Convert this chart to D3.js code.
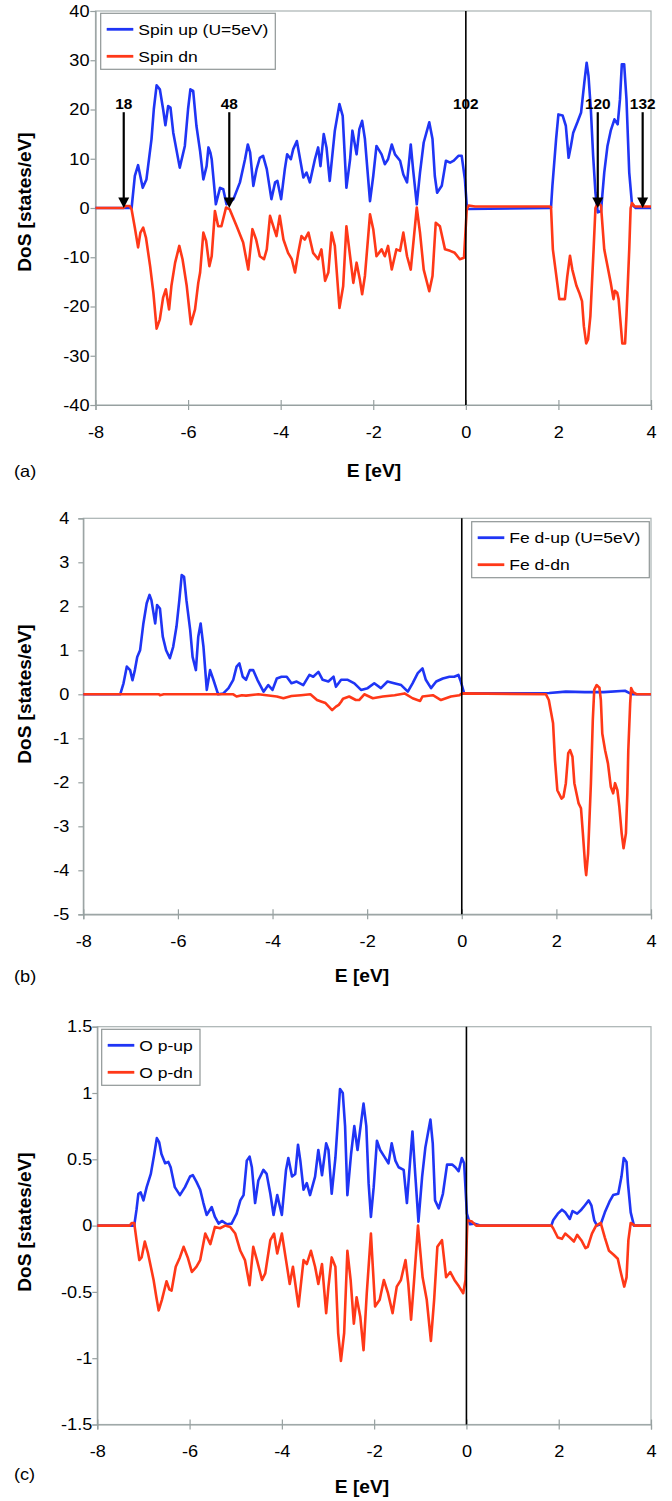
<!DOCTYPE html>
<html>
<head>
<meta charset="utf-8">
<script src="https://cdn.jsdelivr.net/npm/d3@7/dist/d3.min.js"></script>
<style>
  body { margin: 0; background: #fff; }
  svg text { font-family: "Liberation Sans", Arial, sans-serif; fill: #000; }
</style>
</head>
<body>
<div id="chart"></div>
<script>
// energy ticks shared by the three panels
var eTicks = [-8, -6, -4, -2, 0, 2, 4];

// (a) total DoS, [E (eV), DoS (states/eV)]
var totalUp = [[-8,0],[-7.22,0],[-7.15,6.5],[-7.08,8.7],[-6.98,4.1],[-6.9,5.8],[-6.79,14],[-6.74,20.1],[-6.68,24.9],[-6.61,24.1],[-6.54,20.1],[-6.49,16.8],[-6.43,20.7],[-6.38,20.4],[-6.32,15.3],[-6.18,8.2],[-6.07,12.6],[-6.0,20.1],[-5.95,24.1],[-5.89,23.8],[-5.82,16.7],[-5.74,11.5],[-5.67,5.8],[-5.6,8.5],[-5.56,12.3],[-5.52,11.3],[-5.49,9.9],[-5.4,0.75],[-5.31,4.1],[-5.24,3.8],[-5.17,0.75],[-5.02,1.8],[-4.88,5.2],[-4.77,9.9],[-4.71,12.9],[-4.66,11.3],[-4.59,4.5],[-4.52,7.9],[-4.45,10.2],[-4.38,10.6],[-4.3,7.9],[-4.2,1.8],[-4.12,5.2],[-4.07,5.5],[-3.99,1.8],[-3.91,7.9],[-3.86,10.9],[-3.78,9.9],[-3.73,11.9],[-3.65,13.6],[-3.58,9.9],[-3.51,6.2],[-3.44,7.2],[-3.37,5.2],[-3.26,9.9],[-3.19,12.3],[-3.14,8.5],[-3.07,15],[-3.01,12.3],[-2.94,5.5],[-2.83,15.7],[-2.73,21.1],[-2.66,18.7],[-2.58,4.1],[-2.5,9.9],[-2.45,15.7],[-2.36,10.9],[-2.3,16],[-2.24,17.7],[-2.18,14],[-2.07,1.4],[-2.0,6.5],[-1.93,12.6],[-1.82,10.9],[-1.75,8.9],[-1.68,9.9],[-1.6,12.9],[-1.53,10.9],[-1.42,9.6],[-1.35,6.8],[-1.27,5.2],[-1.19,12.9],[-1.14,7.9],[-1.06,0.75],[-0.99,7.2],[-0.91,13.3],[-0.79,17.4],[-0.72,14],[-0.67,6.5],[-0.62,3.1],[-0.52,4.5],[-0.43,9.6],[-0.34,9.2],[-0.26,9.6],[-0.16,10.6],[-0.09,10.6],[-0.02,5.8],[0.02,0.5],[0.05,-0.2],[1.8,0],[1.84,0.1],[1.87,4.5],[1.95,14],[2.0,19],[2.09,18.8],[2.16,16.7],[2.22,10.2],[2.27,12.6],[2.32,15.3],[2.41,17.4],[2.49,19.4],[2.56,25.5],[2.61,29.5],[2.65,26.8],[2.7,20.1],[2.75,10.6],[2.8,3.1],[2.85,-0.9],[2.92,-0.6],[2.99,7.2],[3.06,12.6],[3.13,15.7],[3.21,18],[3.28,17],[3.33,22.1],[3.37,29.2],[3.42,29.2],[3.47,22.1],[3.53,7.2],[3.59,0.7],[3.67,0],[4,0]];
var totalDn = [[-8,0],[-7.4,0],[-7.35,0.4],[-7.26,0.4],[-7.22,-0.3],[-7.15,-4.0],[-7.08,-8.0],[-7.03,-5.0],[-6.97,-4.0],[-6.91,-6.0],[-6.82,-11.8],[-6.75,-17.2],[-6.68,-24.5],[-6.61,-22.6],[-6.54,-18.2],[-6.48,-16.5],[-6.41,-20.6],[-6.36,-15.8],[-6.28,-11.1],[-6.19,-7.7],[-6.12,-10.4],[-6.03,-15.8],[-5.94,-23.6],[-5.85,-20.6],[-5.78,-15.2],[-5.74,-13.1],[-5.67,-5.0],[-5.61,-6.7],[-5.54,-11.8],[-5.49,-9.8],[-5.42,-0.6],[-5.35,-3.7],[-5.28,-3.7],[-5.18,0.1],[-5.1,-0.3],[-4.95,-3.7],[-4.81,-7.0],[-4.7,-12.5],[-4.61,-4.3],[-4.53,-6.4],[-4.45,-9.8],[-4.36,-10.4],[-4.3,-8.4],[-4.23,-1.6],[-4.16,-3.7],[-4.09,-5.7],[-4.02,-1.6],[-3.94,-6.4],[-3.84,-9.1],[-3.76,-10.4],[-3.69,-13.1],[-3.62,-9.1],[-3.55,-5.7],[-3.48,-6.4],[-3.4,-5.0],[-3.3,-9.1],[-3.19,-10.4],[-3.12,-8.4],[-3.04,-14.8],[-2.97,-13.1],[-2.9,-5.0],[-2.83,-7.7],[-2.73,-20.3],[-2.65,-15.9],[-2.58,-3.7],[-2.5,-9.8],[-2.43,-15.2],[-2.36,-11.1],[-2.29,-14.5],[-2.24,-17.5],[-2.18,-13.8],[-2.07,-1.3],[-2.0,-4.3],[-1.93,-9.8],[-1.82,-8.4],[-1.75,-9.8],[-1.68,-7.7],[-1.6,-12.5],[-1.5,-8.4],[-1.42,-8.7],[-1.35,-5.0],[-1.27,-9.8],[-1.19,-12.5],[-1.14,-7.7],[-1.06,0.1],[-0.99,-5.0],[-0.91,-12.5],[-0.79,-16.9],[-0.72,-13.8],[-0.65,-3.0],[-0.56,-3.7],[-0.45,-8.4],[-0.34,-8.7],[-0.24,-9.1],[-0.13,-10.4],[-0.04,-10.1],[0.02,-0.3],[0.06,0.5],[0.2,0.3],[1.8,0.3],[1.84,0.2],[1.88,-8.4],[1.93,-12],[2.02,-18.5],[2.14,-18.5],[2.19,-14],[2.25,-9.7],[2.3,-12.5],[2.39,-15.8],[2.45,-17.2],[2.51,-18.9],[2.55,-24],[2.6,-27.5],[2.64,-26.7],[2.69,-22],[2.76,-8.4],[2.8,0],[2.85,1.0],[2.92,0.5],[2.99,-8.4],[3.06,-11.8],[3.13,-15.2],[3.19,-18.5],[3.22,-16.8],[3.27,-17.2],[3.3,-18.5],[3.33,-21.9],[3.38,-27.5],[3.44,-27.5],[3.47,-21.9],[3.5,-15.2],[3.53,-8.4],[3.56,0],[3.59,1.0],[3.65,0.3],[4,0.3]];
var totalTicks = [40, 30, 20, 10, 0, -10, -20, -30, -40];
// state counts marked with arrows in (a)
var stateMarks = [
  { E: -7.39, label: "18", arrow: true },
  { E: -5.11, label: "48", arrow: true },
  { E: 0, label: "102", arrow: false },
  { E: 2.85, label: "120", arrow: true },
  { E: 3.82, label: "132", arrow: true }
];

// (b) Fe d states
var feUp = [[-8,0],[-7.22,0],[-7.15,0.25],[-7.08,0.63],[-7.01,0.55],[-6.96,0.32],[-6.91,0.55],[-6.86,0.85],[-6.8,1.0],[-6.73,1.61],[-6.66,2.07],[-6.6,2.26],[-6.56,2.14],[-6.48,1.61],[-6.44,2.03],[-6.38,1.95],[-6.32,1.31],[-6.25,1.0],[-6.17,0.82],[-6.1,1.08],[-6.03,1.54],[-5.97,2.14],[-5.92,2.71],[-5.87,2.67],[-5.82,2.14],[-5.74,1.46],[-5.69,0.85],[-5.62,0.55],[-5.57,1.31],[-5.52,1.61],[-5.46,1.08],[-5.39,0.1],[-5.32,0.55],[-5.25,0.33],[-5.15,0],[-5.04,0.02],[-4.93,0.14],[-4.83,0.33],[-4.76,0.63],[-4.7,0.7],[-4.63,0.4],[-4.56,0.33],[-4.48,0.55],[-4.41,0.55],[-4.32,0.33],[-4.19,0.06],[-4.09,0.21],[-4.0,0.1],[-3.91,0.36],[-3.81,0.4],[-3.7,0.4],[-3.6,0.25],[-3.49,0.29],[-3.35,0.21],[-3.22,0.44],[-3.14,0.4],[-3.03,0.51],[-2.94,0.33],[-2.82,0.29],[-2.71,0.4],[-2.66,0.17],[-2.55,0.33],[-2.41,0.33],[-2.27,0.25],[-2.13,0.1],[-1.99,0.14],[-1.85,0.25],[-1.71,0.14],[-1.57,0.29],[-1.43,0.25],[-1.28,0.21],[-1.14,0.06],[-1.04,0.25],[-0.93,0.48],[-0.83,0.59],[-0.76,0.33],[-0.65,0.14],[-0.54,0.29],[-0.4,0.36],[-0.26,0.4],[-0.16,0.4],[-0.07,0.44],[-0.02,0.29],[0.05,0.02],[1.85,0.03],[2.2,0.06],[2.6,0.05],[3.0,0.05],[3.45,0.08],[3.6,0],[4,0]];
var feDn = [[-8,0],[-6.4,0],[-6.38,-0.02],[-6.3,0],[-4.83,0],[-4.76,-0.05],[-4.65,-0.02],[-4.56,-0.03],[-4.3,0],[-3.91,-0.05],[-3.77,-0.09],[-3.6,-0.04],[-3.4,-0.02],[-3.2,0],[-3.06,-0.13],[-2.96,-0.17],[-2.88,-0.2],[-2.74,-0.36],[-2.66,-0.28],[-2.6,-0.24],[-2.55,-0.17],[-2.51,-0.1],[-2.38,-0.05],[-2.24,-0.13],[-2.17,-0.13],[-2.06,0],[-1.88,-0.09],[-1.67,-0.05],[-1.42,-0.02],[-1.21,0.02],[-1.04,-0.09],[-0.88,-0.15],[-0.83,-0.05],[-0.61,-0.02],[-0.44,-0.13],[-0.23,-0.05],[-0.05,-0.02],[0.0,0.02],[1.78,0],[1.84,-0.13],[1.93,-0.66],[1.97,-1.49],[2.02,-2.18],[2.11,-2.37],[2.15,-2.33],[2.2,-2.02],[2.25,-1.34],[2.29,-1.27],[2.34,-1.42],[2.38,-2.02],[2.47,-2.48],[2.52,-2.59],[2.56,-3.16],[2.61,-3.92],[2.63,-4.11],[2.67,-3.62],[2.73,-2.02],[2.77,-0.58],[2.8,0.1],[2.85,0.21],[2.91,0.15],[2.94,-0.13],[2.97,-0.89],[3.03,-1.27],[3.09,-1.57],[3.15,-2.1],[3.2,-2.25],[3.24,-2.02],[3.29,-2.18],[3.33,-2.55],[3.38,-3.16],[3.42,-3.5],[3.47,-3.16],[3.5,-2.25],[3.52,-1.27],[3.56,-0.2],[3.58,0.14],[3.62,0.05],[3.7,0],[4,0]];
var feTicks = [4, 3, 2, 1, 0, -1, -2, -3, -4, -5];

// (c) O p states
var oUp = [[-8,0],[-7.2,0],[-7.15,0.12],[-7.11,0.24],[-7.06,0.25],[-7.0,0.19],[-6.93,0.29],[-6.84,0.39],[-6.77,0.53],[-6.71,0.66],[-6.66,0.63],[-6.61,0.54],[-6.53,0.47],[-6.46,0.48],[-6.41,0.44],[-6.32,0.29],[-6.21,0.23],[-6.1,0.29],[-5.99,0.37],[-5.93,0.38],[-5.85,0.33],[-5.77,0.27],[-5.7,0.17],[-5.63,0.08],[-5.52,0.14],[-5.45,0.065],[-5.37,0.015],[-5.3,0.035],[-5.19,0.01],[-5.09,0.015],[-4.98,0.09],[-4.9,0.19],[-4.83,0.23],[-4.76,0.49],[-4.7,0.52],[-4.65,0.44],[-4.58,0.17],[-4.51,0.34],[-4.4,0.42],[-4.33,0.39],[-4.25,0.24],[-4.18,0.08],[-4.1,0.23],[-4.0,0.08],[-3.91,0.42],[-3.86,0.51],[-3.78,0.37],[-3.71,0.39],[-3.65,0.61],[-3.6,0.49],[-3.53,0.27],[-3.46,0.32],[-3.39,0.23],[-3.28,0.37],[-3.21,0.57],[-3.13,0.38],[-3.04,0.62],[-2.99,0.57],[-2.92,0.24],[-2.84,0.51],[-2.79,0.77],[-2.74,1.03],[-2.68,1.0],[-2.63,0.75],[-2.58,0.23],[-2.5,0.54],[-2.43,0.75],[-2.36,0.57],[-2.29,0.76],[-2.23,0.92],[-2.17,0.75],[-2.12,0.32],[-2.07,0.065],[-2.01,0.29],[-1.94,0.64],[-1.87,0.57],[-1.78,0.52],[-1.69,0.47],[-1.62,0.62],[-1.54,0.49],[-1.47,0.44],[-1.36,0.42],[-1.29,0.17],[-1.22,0.49],[-1.17,0.71],[-1.11,0.39],[-1.04,0.03],[-0.96,0.37],[-0.89,0.59],[-0.78,0.8],[-0.73,0.62],[-0.68,0.19],[-0.6,0.13],[-0.51,0.24],[-0.42,0.46],[-0.31,0.46],[-0.24,0.44],[-0.17,0.41],[-0.1,0.51],[-0.05,0.47],[0.01,0.09],[0.08,0.01],[0.16,0.015],[0.3,0],[1.84,0],[1.88,0.04],[1.98,0.09],[2.07,0.12],[2.14,0.1],[2.24,0.05],[2.3,0.11],[2.4,0.09],[2.49,0.12],[2.56,0.15],[2.65,0.19],[2.71,0.15],[2.77,0.04],[2.83,0],[2.91,0.01],[3.0,0.1],[3.1,0.18],[3.18,0.23],[3.29,0.24],[3.36,0.37],[3.41,0.51],[3.47,0.48],[3.5,0.32],[3.56,0.1],[3.63,0],[4,0]];
var oDn = [[-8,0],[-7.3,0],[-7.25,0.02],[-7.2,0.02],[-7.15,-0.11],[-7.09,-0.26],[-7.04,-0.24],[-6.97,-0.12],[-6.9,-0.21],[-6.84,-0.31],[-6.78,-0.41],[-6.72,-0.54],[-6.67,-0.64],[-6.6,-0.56],[-6.5,-0.42],[-6.44,-0.48],[-6.39,-0.49],[-6.3,-0.31],[-6.21,-0.24],[-6.13,-0.16],[-6.04,-0.24],[-5.95,-0.35],[-5.85,-0.31],[-5.77,-0.26],[-5.66,-0.06],[-5.55,-0.14],[-5.45,-0.01],[-5.34,-0.02],[-5.23,0.0],[-5.12,-0.01],[-5.01,-0.06],[-4.9,-0.19],[-4.8,-0.26],[-4.7,-0.45],[-4.62,-0.16],[-4.54,-0.26],[-4.43,-0.41],[-4.36,-0.36],[-4.25,-0.11],[-4.17,-0.06],[-4.1,-0.21],[-4.0,-0.06],[-3.91,-0.26],[-3.83,-0.44],[-3.76,-0.31],[-3.64,-0.61],[-3.53,-0.26],[-3.46,-0.29],[-3.37,-0.19],[-3.28,-0.31],[-3.21,-0.44],[-3.13,-0.29],[-3.04,-0.66],[-2.99,-0.46],[-2.92,-0.24],[-2.84,-0.31],[-2.78,-0.81],[-2.72,-1.02],[-2.65,-0.81],[-2.58,-0.19],[-2.51,-0.41],[-2.44,-0.74],[-2.38,-0.54],[-2.3,-0.69],[-2.23,-0.94],[-2.16,-0.51],[-2.07,-0.06],[-1.98,-0.61],[-1.88,-0.56],[-1.79,-0.41],[-1.7,-0.51],[-1.6,-0.66],[-1.51,-0.46],[-1.42,-0.41],[-1.32,-0.26],[-1.26,-0.44],[-1.2,-0.71],[-1.14,-0.44],[-1.05,0.0],[-0.95,-0.39],[-0.86,-0.56],[-0.77,-0.87],[-0.7,-0.56],[-0.63,-0.16],[-0.53,-0.11],[-0.44,-0.39],[-0.35,-0.35],[-0.26,-0.41],[-0.16,-0.46],[-0.07,-0.51],[-0.02,-0.41],[0.02,0.04],[0.12,0.03],[0.21,0],[1.84,0],[1.88,-0.02],[1.98,-0.09],[2.07,-0.1],[2.14,-0.06],[2.24,-0.09],[2.33,-0.12],[2.4,-0.07],[2.49,-0.11],[2.58,-0.17],[2.63,-0.16],[2.72,-0.06],[2.81,0],[2.91,0.02],[3.0,-0.09],[3.09,-0.19],[3.19,-0.22],[3.28,-0.25],[3.35,-0.36],[3.42,-0.46],[3.47,-0.39],[3.51,-0.11],[3.56,0.02],[3.65,0],[4,0]];
var oTicks = [1.5, 1, 0.5, 0, -0.5, -1, -1.5];

var svgWidth = 672;
var svgHeight = 1501;
var plotRight = 651;
var upColor = "#1f35f5";
var dnColor = "#ff3818";
var axisGray = "#97a0a0";

var svg = d3.select("#chart")
  .append("svg")
  .attr("width", svgWidth)
  .attr("height", svgHeight);

// glyphs in the picture are a bit wider than Arial, stretch them
function widen(sel, k) {
  sel.each(function() {
    var w = this.getComputedTextLength();
    this.setAttribute("textLength", w * k);
    this.setAttribute("lengthAdjust", "spacingAndGlyphs");
  });
}

var panels = [
  { tag: "(a)", up: totalUp, dn: totalDn, ticks: totalTicks, upName: "Spin up (U=5eV)", dnName: "Spin dn",
    left: 95.5, top: 11, bottom: 405, labelPad: 1, yTitleY: 202, xTitleX: 374, xTitleY: 477, tagY: 477,
    legend: { x: 100.7, y: 13.3, w: 174.6 } },
  { tag: "(b)", up: feUp, dn: feDn, ticks: feTicks, upName: "Fe d-up (U=5eV)", dnName: "Fe d-dn",
    left: 83.3, top: 518.3, bottom: 914.3, labelPad: 9, yTitleY: 694, xTitleX: 362, xTitleY: 982, tagY: 982,
    legend: { x: 471.7, y: 521.7, w: 177.6 } },
  { tag: "(c)", up: oUp, dn: oDn, ticks: oTicks, upName: "O p-up", dnName: "O p-dn",
    left: 97.3, top: 1026.7, bottom: 1424.5, labelPad: 0, yTitleY: 1222, xTitleX: 362, xTitleY: 1493, tagY: 1480,
    legend: { x: 101.7, y: 1029.3, w: 98.3 } }
];

panels.forEach(function(p) {
  var x = d3.scaleLinear().domain([-8, 4]).range([p.left, plotRight]);
  var y = d3.scaleLinear()
    .domain([p.ticks[p.ticks.length - 1], p.ticks[0]])
    .range([p.bottom, p.top]);

  var chart = svg.append("g");

  // plot frame
  chart.append("rect")
    .attr("x", p.left)
    .attr("y", p.top)
    .attr("width", plotRight - p.left)
    .attr("height", p.bottom - p.top)
    .attr("fill", "none")
    .attr("stroke", "#a9b2b2")
    .attr("stroke-width", 1.2);

  // y axis
  var yAxis = chart.append("g")
    .attr("transform", "translate(" + p.left + ",0)")
    .call(d3.axisLeft(y).tickValues(p.ticks).tickFormat(String).tickSize(5).tickPadding(p.labelPad));
  yAxis.selectAll("path, line").attr("stroke", axisGray).attr("stroke-width", 1.2);
  yAxis.selectAll("text").attr("font-size", 16.5).attr("font-family", null).attr("fill", "#000");
  widen(yAxis.selectAll("text"), 1.1);

  // x axis, ticks cross the line
  var xAxis = chart.append("g")
    .attr("transform", "translate(0," + p.bottom + ")")
    .call(d3.axisBottom(x).tickValues(eTicks).tickFormat(String).tickSize(5).tickPadding(16));
  xAxis.selectAll(".tick line").attr("y1", -5);
  xAxis.selectAll("path, line").attr("stroke", axisGray).attr("stroke-width", 1.2);
  xAxis.selectAll("text").attr("font-size", 16.5).attr("font-family", null).attr("fill", "#000");
  widen(xAxis.selectAll("text"), 1.1);

  // curves
  var line = d3.line()
    .x(function(d) { return x(d[0]); })
    .y(function(d) { return y(d[1]); });

  chart.append("path")
    .datum(p.up)
    .attr("d", line)
    .attr("fill", "none")
    .attr("stroke", upColor)
    .attr("stroke-width", 2.6)
    .attr("stroke-linejoin", "round");

  chart.append("path")
    .datum(p.dn)
    .attr("d", line)
    .attr("fill", "none")
    .attr("stroke", dnColor)
    .attr("stroke-width", 2.6)
    .attr("stroke-linejoin", "round");

  // Fermi level
  chart.append("line")
    .attr("x1", x(0)).attr("x2", x(0))
    .attr("y1", p.top).attr("y2", p.bottom)
    .attr("stroke", "#000")
    .attr("stroke-width", 1.6);

  // legend
  var lg = chart.append("g").attr("transform", "translate(" + p.legend.x + "," + p.legend.y + ")");
  lg.append("rect")
    .attr("width", p.legend.w)
    .attr("height", 56)
    .attr("fill", "#fff")
    .attr("stroke", "#8f9696")
    .attr("stroke-width", 1.2);
  [[p.upName, upColor], [p.dnName, dnColor]].forEach(function(item, i) {
    var ly = 16 + i * 27;
    lg.append("line")
      .attr("x1", 6).attr("x2", 32.6)
      .attr("y1", ly).attr("y2", ly)
      .attr("stroke", item[1])
      .attr("stroke-width", 2.8);
    lg.append("text")
      .attr("x", 37.6)
      .attr("y", ly)
      .attr("dy", "0.36em")
      .attr("font-size", 15.5)
      .text(item[0]);
  });
  widen(lg.selectAll("text"), 1.13);

  // axis titles
  chart.append("text")
    .attr("transform", "translate(24," + p.yTitleY + ") rotate(-90)")
    .attr("text-anchor", "middle")
    .attr("dy", "0.36em")
    .attr("font-size", 19)
    .attr("font-weight", "bold")
    .text("DoS [states/eV]");

  var xt = chart.append("text")
    .attr("x", p.xTitleX)
    .attr("y", p.xTitleY)
    .attr("text-anchor", "middle")
    .attr("font-size", 17.5)
    .attr("font-weight", "bold")
    .text("E [eV]");
  widen(xt, 1.1);

  var tg = chart.append("text")
    .attr("x", 14)
    .attr("y", p.tagY)
    .attr("font-size", 16.5)
    .text(p.tag);
  widen(tg, 1.1);

  // arrows with state counts, panel (a) only
  if (p.tag === "(a)") {
    var arrowTop = 19.45, labelLevel = 20.2;
    stateMarks.forEach(function(m) {
      var ax = x(m.E);
      if (m.arrow) {
        chart.append("line")
          .attr("x1", ax).attr("x2", ax)
          .attr("y1", y(arrowTop)).attr("y2", y(0) - 8)
          .attr("stroke", "#000")
          .attr("stroke-width", 2.2);
        chart.append("path")
          .attr("d", "M" + (ax - 5.5) + "," + (y(0) - 10.5) + "L" + (ax + 5.5) + "," + (y(0) - 10.5) + "L" + ax + "," + y(0) + "Z")
          .attr("fill", "#000");
      }
      var t = chart.append("text")
        .attr("x", ax)
        .attr("y", y(labelLevel))
        .attr("text-anchor", "middle")
        .attr("font-size", 14)
        .attr("font-weight", "bold")
        .text(m.label);
      widen(t, 1.1);
    });
  }
});
</script>
</body>
</html>
